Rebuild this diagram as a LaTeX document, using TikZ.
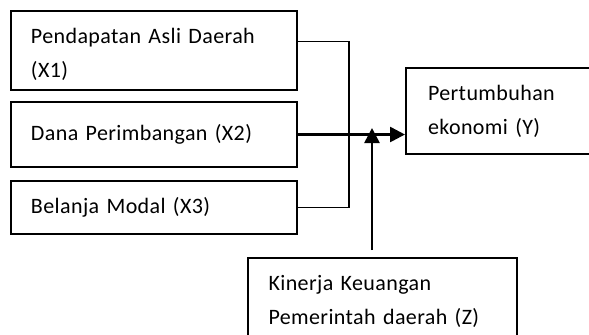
\documentclass[tikz,border=0pt]{standalone}
\usepackage{fontspec}
\setmainfont[LetterSpace=1.8]{Carlito}
\usepackage{tikz}
\usetikzlibrary{arrows.meta}
\usetikzlibrary{positioning}

\begin{document}
\begin{tikzpicture}[x=0.5pt, y=-0.5pt,
    varbox/.style={draw, line width=1pt, rectangle, anchor=north west, align=left,
        inner xsep=10pt, font=\fontsize{11}{17}\selectfont},
    link/.style={line width=0.8pt},
    arrowlink/.style={line width=1.3pt, -{Triangle[length=7.5pt,width=7.5pt]}}]
            \useasboundingbox (0,0) rectangle (589,334);
            \clip (0,0) rectangle (589,334);
            \node[varbox, minimum width=143pt, minimum height=39.5pt, text width=123pt] at (10,10) (x1) {\rule{0pt}{12pt}Pendapatan Asli Daerah\\(X1)};
            \node[varbox, minimum width=143pt, minimum height=32.5pt, text width=123pt] at (10,101) (x2) {Dana Perimbangan (X2)};
            \node[varbox, minimum width=143pt, minimum height=26.5pt, text width=123pt] at (10,180) (x3) {Belanja Modal (X3)};
            \node[varbox, minimum width=110pt, minimum height=43pt, text width=88pt, inner xsep=11pt] at (405,67) (y) {Pertumbuhan\\ekonomi (Y)};
            \node[varbox, minimum width=134.5pt, minimum height=43pt, text width=114pt] at (247,257) (z) {Kinerja Keuangan\\Pemerintah daerah (Z)};
            \coordinate (jn) at (349,133);
            \coordinate (zin) at (372,128);
            \draw[link] ([yshift=4.5pt]x1.east) -| (jn) |- (x3.east);
            \draw[arrowlink] (x2.east) -- (x2.east -| y.west);
            \draw[arrowlink] ([yshift=3.5pt]zin |- z.north) -- (zin);
        \end{tikzpicture}
\end{document}
